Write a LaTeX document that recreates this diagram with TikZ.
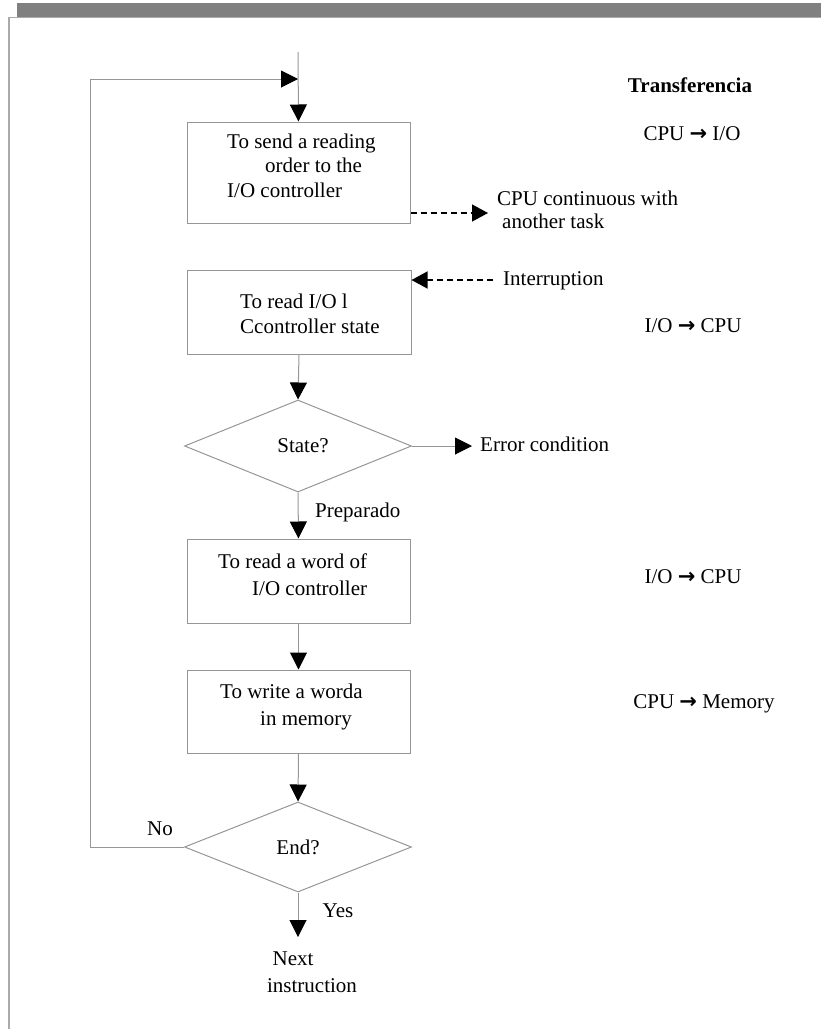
\documentclass[tikz,border=0pt]{standalone}
\usepackage{fontspec}
\setmainfont{Liberation Serif}
\newfontfamily\symfont{DejaVu Sans}
\usetikzlibrary{arrows.meta,shapes.geometric}
\definecolor{lngray}{RGB}{150,150,150}
\definecolor{bargray}{RGB}{128,128,128}
\definecolor{framegray}{RGB}{170,170,170}
\newcommand{\arr}{{\symfont\bfseries →}}
\begin{document}
\begin{tikzpicture}[x=1pt,y=-1pt,
  font=\fontsize{21}{25}\selectfont,
  ln/.style={draw=lngray, line width=1pt},
  box/.style={draw=lngray, line width=1pt, rectangle, minimum width=223pt, inner sep=0pt},
  dec/.style={draw=lngray, line width=1pt, diamond, aspect=2.47, minimum width=227pt, inner sep=0pt},
  txt/.style={inner sep=0pt, text height=14pt, text depth=4pt},
  flow/.style={ln, -{Triangle[length=17pt,width=17pt,color=black]}},
  dasharrow/.style={draw=black, line width=1.4pt, dash pattern=on 6pt off 4pt, -{Triangle[length=16pt,width=17pt]}},
]
\useasboundingbox (0,0) rectangle (821,1029);
% page frame
\fill[bargray] (17,3) rectangle (821,17);
\draw[framegray, line width=1.5pt] (9,1029) -- (9,17.5) -- (821,17.5);

% boxes and decisions
\coordinate (top) at (298,52);
\node[box, minimum height=101pt] (b1) at (298.5,172.5) {};
\node[box, minimum width=224pt, minimum height=84pt] (b2) at (299,312) {};
\node[dec, minimum height=92pt] (d1) at (298,446) {\hspace*{10pt}State?};
\node[box, minimum height=84pt] (b3) at (298.5,581) {};
\node[box, minimum height=83pt] (b4) at (298.5,711.5) {};
\node[dec, minimum height=90pt] (d2) at (298,847) {End?};

% box texts
\node[txt, anchor=west] (t1a) at (227,143) {To send a reading};
\node[txt, anchor=west] (t1b) at (265,167) {order to the};
\node[txt, anchor=west] (t1c) at (227,192) {I/O controller};
\node[txt, anchor=west] (t2a) at (240,303) {To read I/O l};
\node[txt, anchor=west] (t2b) at (240,328) {Ccontroller state};
\node[txt, anchor=west] (t3a) at (218,563) {To read a word of};
\node[txt, anchor=west] (t3b) at (252,590) {I/O controller};
\node[txt, anchor=west] (t4a) at (220,693) {To write a worda};
\node[txt, anchor=west] (t4b) at (260,720) {in memory};

% side labels
\node[txt, anchor=west] (cont1) at (497,200) {CPU continuous with};
\node[txt, anchor=west] (cont2) at (502,223) {another task};
\coordinate (contin) at (488,213);
\node[txt, anchor=west] (intr) at (503,280) {Interruption};
\coordinate (intrS) at (493,280);
\node[txt, anchor=west, inner xsep=8pt] (err) at (472,446) {Error condition};
\node[txt, anchor=west] (prep) at (315,512) {Preparado};
\node[txt] (no) at (160,830) {No};
\node[txt] (yes) at (338,912) {Yes};
\coordinate (nxt) at (298,937);
\node[txt] (next1) at (293,960) {Next};
\node[txt] (next2) at (312,987) {instruction};

% transfer column
\node[txt, font=\fontsize{21}{25}\selectfont\bfseries] (tr) at (690,87) {Transferencia};
\node[txt] (x1) at (692,135) {CPU \arr{} I/O};
\node[txt] (x2) at (693,327) {I/O \arr{} CPU};
\node[txt] (x3) at (693,578) {I/O \arr{} CPU};
\node[txt] (x4) at (704,703) {CPU \arr{} Memory};

% connectors
\coordinate (fbL) at (90,79);
\coordinate (fbR) at (298,79);
\draw[flow] (top) -- (b1.north);
\draw[flow] (d2.west) -| (fbL) -- (fbR);
\draw[dasharrow] (b1.east |- contin) -- (contin);
\draw[dasharrow] (intrS) -- (b2.east |- intrS);
\draw[flow] (b2.south) -- (d1.north);
\draw[flow] (d1.east) -- (err.west);
\draw[flow] (d1.south) -- (b3.north);
\draw[flow] (b3.south) -- (b4.north);
\draw[flow] (b4.south) -- (d2.north);
\draw[flow] (d2.south) -- (nxt);
\end{tikzpicture}
\end{document}
